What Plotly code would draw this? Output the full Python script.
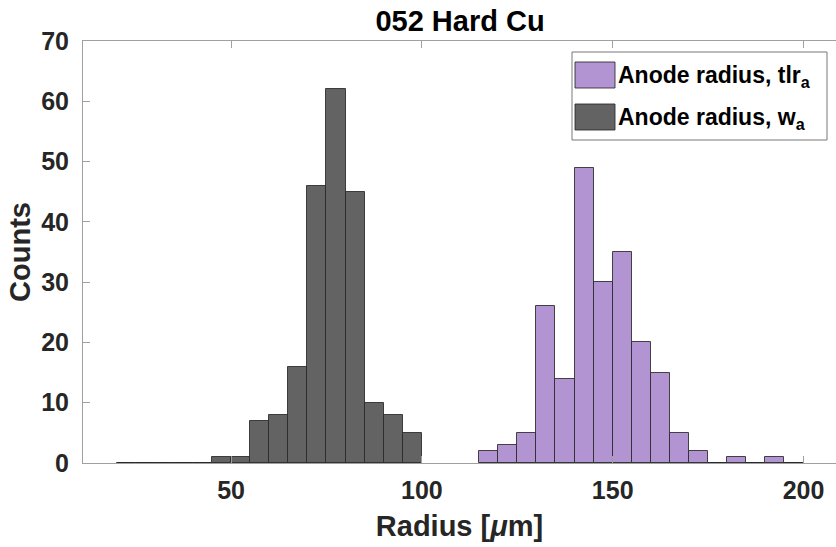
import plotly.graph_objects as go
import numpy as np

# Bin edges (width 5) and counts
w_edges = list(range(20, 105, 5))          # 20..100
w_counts = [0, 0, 0, 0, 0, 1, 1, 7, 8, 16, 46, 62, 45, 10, 8, 5]
tlr_edges = list(range(115, 205, 5))       # 115..200
tlr_counts = [2, 3, 5, 26, 14, 49, 30, 35, 20, 15, 5, 2, 0, 1, 0, 1, 0]

name_tlr = "Anode radius, tlr<sub>a</sub>"
name_w = "Anode radius, w<sub>a</sub>"

purple = "rgb(178,148,210)"
gray = "rgb(99,99,99)"
edge = "rgba(40,40,40,0.85)"
axis_col = "rgb(160,160,160)"
txt = "rgb(38,38,38)"
FONT = "Liberation Sans, Arial, sans-serif"

W, H = 836, 547
L, R, T, B = 83, 0, 41, 84


def centers(edges):
    e = np.array(edges, dtype=float)
    return ((e[:-1] + e[1:]) / 2).tolist(), float(e[1] - e[0])


def px(xp):   # pixel -> paper x
    return (xp - L) / (W - L - R)


def py(yp):   # pixel -> paper y
    return (H - B - yp) / (H - T - B)


fig = go.Figure()

series = [(tlr_edges, tlr_counts, name_tlr, purple),
          (w_edges, w_counts, name_w, gray)]

for edges, counts, name, col in series:
    # zero-level outline of the histogram (visible where bins are empty)
    fig.add_trace(go.Scatter(x=[edges[0], edges[-1]], y=[0, 0], mode="lines",
                             line=dict(color=edge, width=1.2),
                             showlegend=False, hoverinfo="skip"))
    xc, bw = centers(edges)
    fig.add_trace(go.Bar(x=xc, y=counts, width=bw, name=name, showlegend=False,
                         marker=dict(color=col, line=dict(color=edge, width=1))))

# Legend drawn MATLAB-style (large swatches, boxed)
shapes = [dict(type="rect", xref="paper", yref="paper",
               x0=px(572), x1=px(827), y0=py(140), y1=py(52),
               line=dict(color="rgb(120,120,120)", width=1), fillcolor="white", layer="above")]
annos = []
rows = [75, 117]
for (edges, counts, name, col), yc in zip(series, rows):
    shapes.append(dict(type="rect", xref="paper", yref="paper",
                       x0=px(575), x1=px(615), y0=py(yc + 13), y1=py(yc - 13),
                       line=dict(color=edge, width=1), fillcolor=col, layer="above"))
    annos.append(dict(xref="paper", yref="paper", x=px(616), y=py(yc + 1), xanchor="left",
                      yanchor="middle", showarrow=False, text="<b>%s</b>" % name,
                      font=dict(size=23, color="black", family=FONT)))

fig.update_layout(
    width=W, height=H,
    margin=dict(l=L, r=R, t=T, b=B),
    plot_bgcolor="white", paper_bgcolor="white",
    barmode="overlay", bargap=0, showlegend=False,
    font=dict(family=FONT, color=txt, size=25),
    title=dict(text="<b>052 Hard Cu</b>", x=(83 + 837) / 2 / W, xanchor="center",
               yref="container", y=1 - 21 / H, yanchor="middle",
               font=dict(size=29, color="black", family=FONT)),
    shapes=shapes, annotations=annos,
    xaxis=dict(range=[11.2, 208.5], tickvals=[50, 100, 150, 200],
               ticktext=["<b>50</b>", "<b>100</b>", "<b>150</b>", "<b>200</b>"],
               ticks="inside", ticklen=7, tickcolor=axis_col,
               showline=True, linecolor=axis_col, linewidth=1, mirror="ticks",
               showgrid=False, zeroline=False, ticklabelstandoff=5,
               tickfont=dict(size=25, color=txt),
               title=dict(text="<b>Radius [<i>μ</i>m]</b>", font=dict(size=29, color=txt),
                          standoff=12)),
    yaxis=dict(range=[0, 70], tickvals=list(range(0, 80, 10)),
               ticktext=["<b>%d</b>" % v for v in range(0, 80, 10)],
               ticks="inside", ticklen=7, tickcolor=axis_col,
               showline=True, linecolor=axis_col, linewidth=1,
               showgrid=False, zeroline=False, ticklabelstandoff=8,
               tickfont=dict(size=25, color=txt),
               title=dict(text="<b>Counts</b>", font=dict(size=29, color=txt),
                          standoff=2)),
)

fig.write_html("out.html")
